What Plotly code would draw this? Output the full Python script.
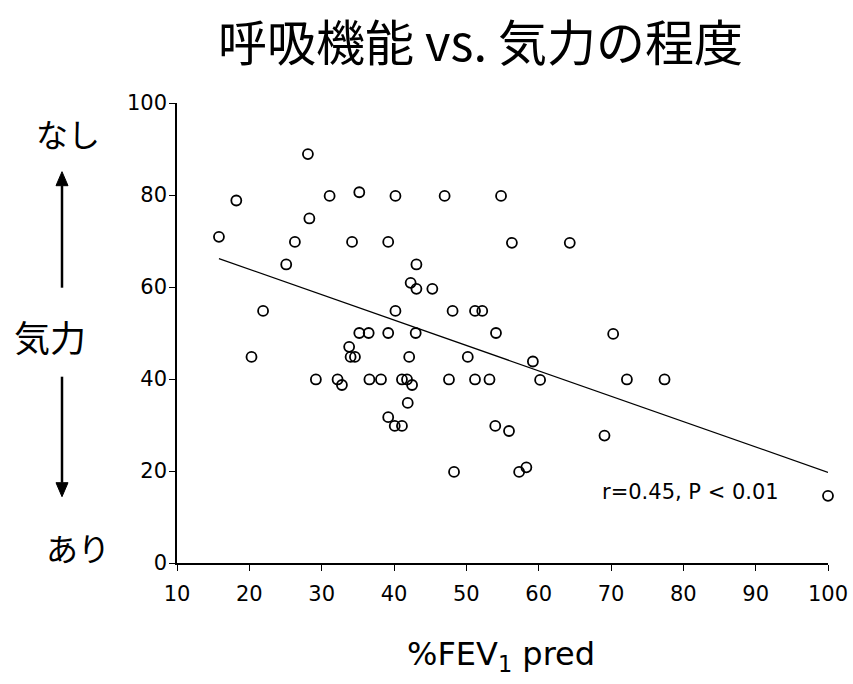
import plotly.graph_objects as go

# %FEV1 predicted vs. motivation score
fev1_pred = [15.8, 18.2, 20.3, 21.9, 25.1, 26.3, 28.1, 28.3, 29.2, 31.1,
             32.2, 32.8, 33.8, 34.0, 34.6, 34.2, 35.2, 35.2, 36.5, 36.6,
             38.2, 39.2, 39.2, 39.2, 40.1, 40.2, 40.2, 41.1, 41.1, 41.8,
             41.9, 42.1, 42.3, 42.5, 43.1, 43.1, 43.0, 45.3, 47.0, 47.6,
             48.1, 48.3, 50.2, 51.2, 51.2, 52.2, 53.2, 54.1, 54.0, 54.8,
             55.9, 56.3, 57.3, 58.3, 59.2, 60.2, 64.3, 69.1, 70.3, 72.2,
             77.4, 100.0]
motivation = [70.9, 78.8, 44.8, 54.8, 64.9, 69.8, 88.9, 74.9, 39.9, 79.8,
              39.9, 38.7, 47.0, 44.8, 44.8, 69.8, 80.6, 50.0, 50.0, 39.9,
              39.9, 69.8, 50.0, 31.7, 29.8, 54.8, 79.8, 39.9, 29.8, 39.9,
              34.8, 44.8, 60.9, 38.7, 64.9, 59.6, 50.0, 59.6, 79.8, 39.9,
              54.8, 19.8, 44.8, 54.8, 39.9, 54.8, 39.9, 50.0, 29.8, 79.8,
              28.7, 69.6, 19.8, 20.8, 43.8, 39.8, 69.6, 27.7, 49.8, 39.9,
              39.9, 14.6]

# regression line coefficients
fit_slope = -0.552
fit_intercept = 74.9

x_ticks = [10, 20, 30, 40, 50, 60, 70, 80, 90, 100]
y_ticks = [0, 20, 40, 60, 80, 100]

latin = "DejaVu Sans"
cjk = "Noto Sans CJK JP"
tick_font = dict(family=latin, size=21, color="black")

W, H = 853, 684
ML, MR, MT, MB = 177, 25, 103.3, 120.7
PW, PH = W - ML - MR, H - MT - MB


def px(x):
    """Horizontal pixel -> paper fraction."""
    return (x - ML) / PW


def py(y):
    """Vertical pixel (from top) -> paper fraction."""
    return (H - MB - y) / PH


x_fit = [min(fev1_pred), max(fev1_pred)]
y_fit = [fit_intercept + fit_slope * v for v in x_fit]

fig = go.Figure()
fig.add_trace(go.Scatter(
    x=x_fit, y=y_fit, mode="lines",
    line=dict(color="black", width=1.2), showlegend=False, hoverinfo="skip"))
fig.add_trace(go.Scatter(
    x=fev1_pred, y=motivation, mode="markers",
    marker=dict(symbol="circle-open", size=10, color="black",
                line=dict(width=1.8, color="black")),
    cliponaxis=False, showlegend=False))

fig.update_xaxes(range=[10, 100], tickvals=x_ticks, showline=True,
                 linecolor="black", linewidth=1.5, ticks="outside",
                 ticklen=6, tickwidth=1.2, tickcolor="black",
                 ticklabelstandoff=5, automargin=False,
                 showgrid=False, zeroline=False, tickfont=tick_font)
fig.update_yaxes(range=[0, 100], tickvals=y_ticks, showline=True,
                 linecolor="black", linewidth=1.5, ticks="outside",
                 ticklen=6, tickwidth=1.2, tickcolor="black",
                 ticklabelstandoff=-2, automargin=False,
                 showgrid=False, zeroline=False, tickfont=tick_font)

annotations = [
    dict(text="呼吸機能 vs. 気力の程度", x=px(480), y=py(40), xref="paper",
         yref="paper", xanchor="center", yanchor="middle", showarrow=False,
         font=dict(family=cjk, size=49, color="black")),
    dict(text="r=0.45, P < 0.01", x=68.5, y=15.5, xref="x", yref="y",
         xanchor="left", yanchor="middle", showarrow=False,
         font=dict(family=latin, size=21, color="black")),
    dict(text="%FEV<sub>1</sub> pred", x=px(501), y=py(656), xref="paper",
         yref="paper", xanchor="center", yanchor="middle", showarrow=False,
         font=dict(family=latin, size=32, color="black")),
    dict(text="なし", x=px(68), y=py(133), xref="paper", yref="paper",
         xanchor="center", yanchor="middle",
         showarrow=False, font=dict(family=cjk, size=32, color="black")),
    dict(text="気力", x=px(50), y=py(336), xref="paper", yref="paper",
         xanchor="center", yanchor="middle",
         showarrow=False, font=dict(family=cjk, size=36, color="black")),
    dict(text="あり", x=px(78), y=py(547), xref="paper", yref="paper",
         xanchor="center", yanchor="middle",
         showarrow=False, font=dict(family=cjk, size=32, color="black")),
]

# vertical arrows beside the y axis
arrow_x = 62
shapes = []
for tail, base, tip in [(288, 186, 172), (377, 483, 497)]:
    shapes.append(dict(type="line", xref="paper", yref="paper",
                       x0=px(arrow_x), x1=px(arrow_x), y0=py(tail), y1=py(base),
                       line=dict(color="black", width=2.5)))
    shapes.append(dict(
        type="path", xref="paper", yref="paper",
        path=(f"M {px(arrow_x - 6)} {py(base)} L {px(arrow_x + 6)} {py(base)} "
              f"L {px(arrow_x)} {py(tip)} Z"),
        fillcolor="black", line=dict(color="black", width=1)))

fig.update_layout(
    width=W, height=H,
    margin=dict(l=ML, r=MR, t=MT, b=MB, autoexpand=False),
    paper_bgcolor="white", plot_bgcolor="white",
    annotations=annotations,
    shapes=shapes,
)

fig.write_html("out.html")
